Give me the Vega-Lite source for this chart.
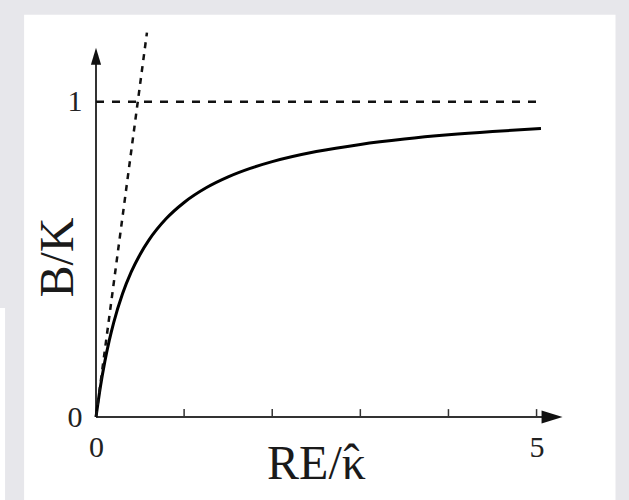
{
  "$schema": "https://vega.github.io/schema/vega-lite/v6.json",
  "autosize": {"type": "none"},
  "padding": {"left": 96, "top": 45, "right": 66, "bottom": 83},
  "width": 467,
  "height": 372,
  "background": "#e7e7eb",
  "config": {"view": {"stroke": null}},
  "encoding": {
    "x": {
      "field": "x", "type": "quantitative",
      "scale": {"domain": [0, 5.3], "nice": false, "zero": false},
      "axis": {
        "zindex": 1, "format": "d",
        "values": [0, 5], "domain": false, "ticks": false, "tickSize": 0, "grid": false,
        "labelFlush": false, "labelPadding": 15, "labelFont": "Liberation Serif", "labelFontSize": 30,
        "labelColor": "#222", "labelBaseline": "top",
        "title": "RE/κ", "titleFont": "Liberation Serif", "titleFontSize": 48, "titleFontWeight": "normal",
        "titleColor": "#1a1a1a", "titleX": 220, "titleY": 61, "titleAlign": "center", "titleBaseline": "alphabetic"
      }
    },
    "y": {
      "field": "y", "type": "quantitative",
      "scale": {"domain": [0, 1.18], "nice": false, "zero": false},
      "axis": {
        "zindex": 1, "format": "d",
        "values": [0, 1], "domain": false, "ticks": false, "tickSize": 0, "grid": false,
        "labelFlush": false, "labelPadding": 14, "labelFont": "Liberation Serif", "labelFontSize": 30,
        "labelColor": "#222", "labelBaseline": "middle",
        "title": "B/K", "titleFont": "Liberation Serif", "titleFontSize": 48, "titleFontWeight": "normal",
        "titleColor": "#1a1a1a", "titleAngle": -90, "titleX": -24, "titleY": 212, "titleAlign": "center", "titleBaseline": "alphabetic"
      }
    }
  },
  "layer": [
    {
      "data": {"values": [
        {"x": -0.816, "x2": 5.896, "y": 1.276, "y2": -0.27},
        {"x": -1.09, "x2": -1.032, "y": 0.346, "y2": -0.27}
      ]},
      "mark": {"type": "rect", "fill": "#ffffff", "stroke": null},
      "encoding": {"x2": {"field": "x2"}, "y2": {"field": "y2"}}
    },
    {
      "data": {"values": [
        {"x": 0, "x2": 5.2, "y": 0, "y2": 0},
        {"x": 0, "x2": 0, "y": 0, "y2": 1.15}
      ]},
      "mark": {"type": "rule", "color": "#333333", "strokeWidth": 2},
      "encoding": {"x2": {"field": "x2"}, "y2": {"field": "y2"}}
    },
    {
      "data": {"values": [
        {"x": 1, "y": 0, "y2": 0.025},
        {"x": 2, "y": 0, "y2": 0.025},
        {"x": 3, "y": 0, "y2": 0.025},
        {"x": 4, "y": 0, "y2": 0.025},
        {"x": 5, "y": 0, "y2": 0.025}
      ]},
      "mark": {"type": "rule", "color": "#333333", "strokeWidth": 1.5},
      "encoding": {"y2": {"field": "y2"}}
    },
    {
      "data": {"values": [{"x": 0, "y": 1.144}]},
      "mark": {"type": "point", "shape": "M0,-1L0.6,1L-0.6,1Z", "size": 289, "filled": true, "color": "#111111", "opacity": 1}
    },
    {
      "data": {"values": [{"x": 5.176, "y": 0}]},
      "mark": {"type": "point", "shape": "M1,0L-1,-0.62L-1,0.62Z", "size": 441, "filled": true, "color": "#111111", "opacity": 1}
    },
    {
      "data": {"values": [{"x": 2.9, "y": -0.194, "label": "ˆ"}]},
      "mark": {"type": "text", "font": "Liberation Serif", "fontSize": 48, "color": "#1a1a1a", "align": "center", "baseline": "alphabetic"},
      "encoding": {"text": {"field": "label"}}
    },
    {
      "data": {"values": [
        {"x": 0, "y": 0}, {"x": 0.05, "y": 0.0962}, {"x": 0.1, "y": 0.1756}, {"x": 0.15, "y": 0.2421},
        {"x": 0.2, "y": 0.2987}, {"x": 0.3, "y": 0.3899}, {"x": 0.4, "y": 0.46}, {"x": 0.5, "y": 0.5157},
        {"x": 0.6, "y": 0.561}, {"x": 0.8, "y": 0.6302}, {"x": 1.0, "y": 0.6805}, {"x": 1.25, "y": 0.727},
        {"x": 1.5, "y": 0.7616}, {"x": 1.75, "y": 0.7885}, {"x": 2.0, "y": 0.8099}, {"x": 2.5, "y": 0.8419},
        {"x": 3.0, "y": 0.8647}, {"x": 3.5, "y": 0.8817}, {"x": 4.0, "y": 0.895}, {"x": 4.5, "y": 0.9055},
        {"x": 5.05, "y": 0.9149}
      ]},
      "mark": {"type": "line", "color": "#000000", "strokeWidth": 3, "interpolate": "monotone"}
    },
    {
      "data": {"values": [{"x": 0, "y": 1}, {"x": 5.05, "y": 1}]},
      "mark": {"type": "line", "color": "#111111", "strokeWidth": 2.5, "strokeDash": [8, 8]}
    },
    {
      "data": {"values": [{"x": 0, "y": 0}, {"x": 0.578, "y": 1.219}]},
      "mark": {"type": "line", "color": "#111111", "strokeWidth": 2.5, "strokeDash": [6, 6], "clip": false}
    }
  ]
}
